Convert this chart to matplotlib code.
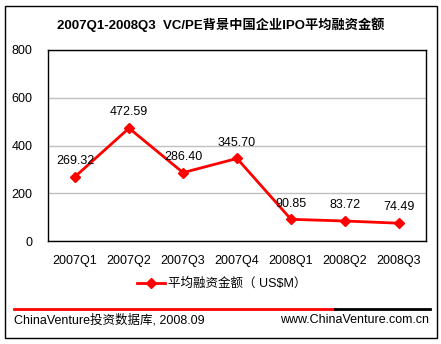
import matplotlib.pyplot as plt
from matplotlib.patches import Rectangle
from matplotlib.lines import Line2D

plt.rcParams['font.family'] = ['Liberation Sans', 'Noto Sans CJK SC']

quarters = ['2007Q1', '2007Q2', '2007Q3', '2007Q4', '2008Q1', '2008Q2', '2008Q3']
avg_ipo = [269.32, 472.59, 286.40, 345.70, 90.85, 83.72, 74.49]
y_ticks = [0, 200, 400, 600, 800]

W, H = 441, 344
fig = plt.figure(figsize=(W / 100, H / 100), dpi=100)

def fx(px):
    return px / W

def fy(py):
    return 1 - py / H

# outer frame
fig.patches.append(Rectangle((fx(5), fy(338)), fx(437) - fx(5), fy(6) - fy(338),
                             transform=fig.transFigure, fill=False,
                             edgecolor='black', linewidth=1))

ax = fig.add_axes([fx(48), fy(241), fx(426) - fx(48), fy(50) - fy(241)])
ax.plot(range(len(quarters)), avg_ipo, color='#ff0000', linewidth=2,
        marker='D', markersize=5)
for i, v in enumerate(avg_ipo):
    ax.annotate(f'{v:.2f}', (i, v), xytext=(0, 7), textcoords='offset points',
                ha='center', va='bottom', fontsize=9)

ax.set_xlim(-0.5, len(quarters) - 0.5)
ax.set_ylim(0, 800)
ax.set_yticks(y_ticks)
ax.set_xticks(range(len(quarters)))
ax.set_xticklabels(quarters)
ax.tick_params(length=0, labelsize=9, pad=10)
ax.tick_params(axis='y', pad=11)
ax.yaxis.grid(True, color='#c0c0c0', linewidth=1)
ax.set_axisbelow(True)
for s in ax.spines.values():
    s.set_linewidth(1)

fig.text(fx(221), fy(25), '2007Q1-2008Q3  VC/PE背景中国企业IPO平均融资金额',
         ha='center', va='center', fontsize=9.5, fontweight='bold')

handle = Line2D([], [], color='#ff0000', linewidth=2, marker='D', markersize=5)
fig.legend([handle], ['平均融资金额（ US$M）'], loc='center',
           bbox_to_anchor=(fx(222), fy(284)), frameon=False, fontsize=9,
           handlelength=2.2, handletextpad=0.3)

# footer rule: red then black
fig.add_artist(Line2D([fx(14), fx(335)], [fy(309), fy(309)], color='#ff0000', linewidth=2))
fig.add_artist(Line2D([fx(335), fx(430)], [fy(309), fy(309)], color='black', linewidth=2))
fig.text(fx(14), fy(320), 'ChinaVenture投资数据库, 2008.09', ha='left', va='center', fontsize=9)
fig.text(fx(429), fy(320), 'www.ChinaVenture.com.cn', ha='right', va='center', fontsize=9)

fig.savefig('out.png', dpi=100)
